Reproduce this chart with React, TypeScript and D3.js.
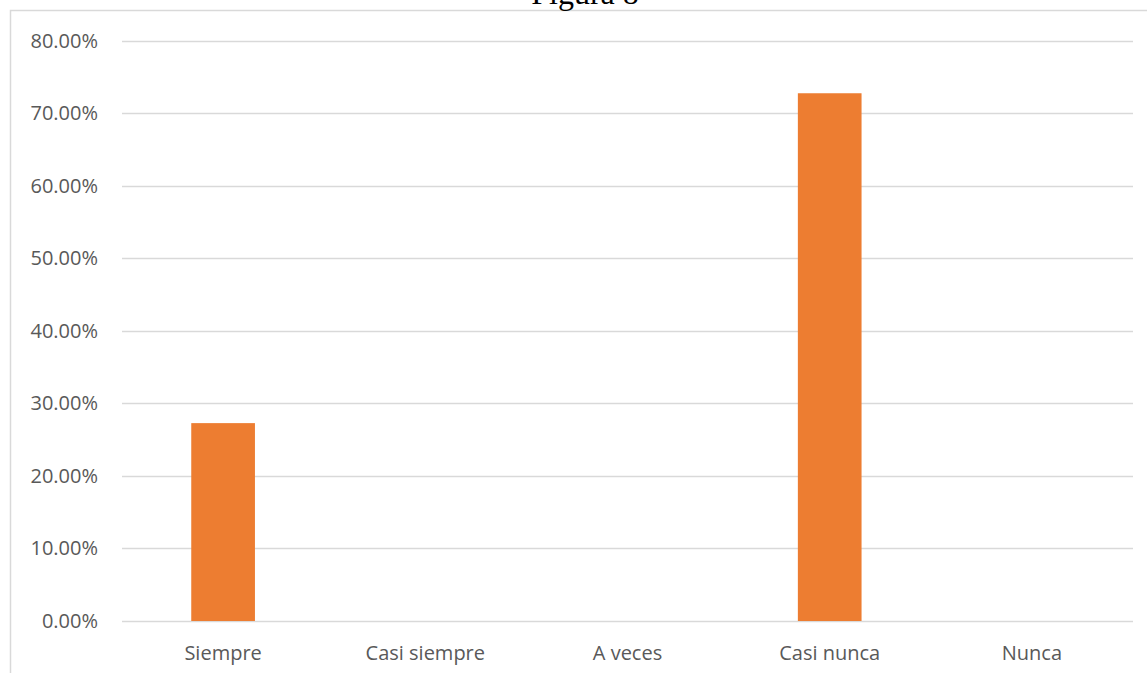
import React from "react";
import * as d3 from "d3";

const categories = ["Siempre", "Casi siempre", "A veces", "Casi nunca", "Nunca"];
const values = [0.2727, 0, 0, 0.7273, 0];
const yTicks = [0, 0.1, 0.2, 0.3, 0.4, 0.5, 0.6, 0.7, 0.8];
const title = "Figura 8";

export default function App() {
  const W = 1147, H = 673;
  const left = 122, right = 1133, top = 40.5, bottom = 621;
  const x = d3.scaleBand<string>().domain(categories).range([left, right]).paddingInner(0.685).paddingOuter(0.3425);
  const y = d3.scaleLinear().domain([0, 0.8]).range([bottom, top]);
  const fmt = d3.format(".2%");
  const font = "'Open Sans', sans-serif";
  return (
    <svg width={W} height={H} style={{ position: "fixed", left: 0, top: 0, background: "#fff" }}>
      <rect x={10.5} y={10.5} width={W} height={H} fill="#fff" stroke="#d9d9d9" strokeWidth={1.5} />
      <text x={585} y={4} textAnchor="middle" fontFamily="'Liberation Serif', 'Times New Roman', serif" fontSize={32} fill="#000">{title}</text>
      {yTicks.map((t) => (
        <g key={t}>
          <line x1={left} x2={right} y1={Math.round(y(t)) + 0.5} y2={Math.round(y(t)) + 0.5} stroke="#d9d9d9" strokeWidth={1.3} />
          <text x={98} y={y(t)} dy="0.35em" textAnchor="end" fontFamily={font} fontSize={20} fill="#595959">{fmt(t)}</text>
        </g>
      ))}
      {categories.map((c, i) => (
        <g key={c}>
          {values[i] > 0 && (
            <rect x={x(c)} y={y(values[i])} width={x.bandwidth()} height={y(0) - y(values[i])} fill="#ed7d31" />
          )}
          <text x={(x(c) ?? 0) + x.bandwidth() / 2} y={653} dy="0.35em" textAnchor="middle" fontFamily={font} fontSize={20} fill="#595959">{c}</text>
        </g>
      ))}
    </svg>
  );
}
